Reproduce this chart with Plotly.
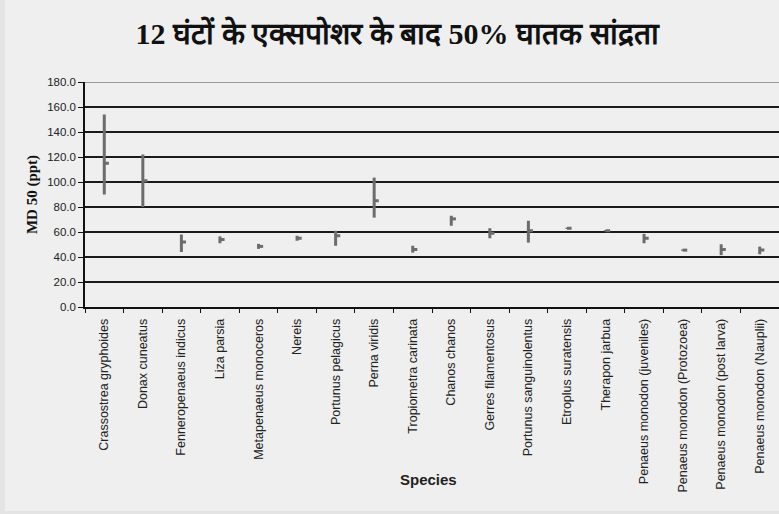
import plotly.graph_objects as go

# Species tested and their 12-hour LC50 salinity values (ppt): low, high and mean
species = [
    "Crassostrea gryphoides", "Donax cuneatus", "Fenneropenaeus indicus", "Liza parsia",
    "Metapenaeus monoceros", "Nereis", "Portunus pelagicus", "Perna viridis",
    "Tropiometra carinata", "Chanos chanos", "Gerres filamentosus",
    "Portunus sanguinolentus", "Etroplus suratensis", "Therapon jarbua",
    "Penaeus monodon (juveniles)", "Penaeus monodon (Protozoea)",
    "Penaeus monodon (post larva)", "Penaeus monodon (Nauplii)",
]
low = [90, 80, 44, 51, 46.5, 53, 49, 71.5, 43.5, 65, 55, 51.5, 62.5, 60.5, 51, 45, 41.5, 42.2]
high = [154, 122, 58, 56.5, 50.5, 57, 61, 103.5, 49, 73, 63, 69, 63.5, 61.5, 58.5, 46, 50.2, 48.3]
mean = [115, 101, 52, 54, 48.5, 55, 57, 85, 46, 70.5, 59, 61, 63, 61, 55, 45.5, 46, 45.6]

y_ticks = [0, 20, 40, 60, 80, 100, 120, 140, 160, 180]

LINE_COLOR = "#6c6c6c"
TICK_OFFSET = 0.12  # length of the mean tick, in category units

idx = list(range(len(species)))

# vertical low-high segments
rx, ry = [], []
for i, lo, hi in zip(idx, low, high):
    rx += [i, i, None]
    ry += [lo, hi, None]

# short mean tick to the right of each segment
mx, my = [], []
for i, m in zip(idx, mean):
    mx += [i, i + TICK_OFFSET, None]
    my += [m, m, None]

fig = go.Figure()
fig.add_trace(go.Scatter(x=rx, y=ry, mode="lines",
                         line=dict(color=LINE_COLOR, width=3), hoverinfo="skip",
                         showlegend=False))
fig.add_trace(go.Scatter(x=mx, y=my, mode="lines",
                         line=dict(color=LINE_COLOR, width=3), hoverinfo="skip",
                         showlegend=False))

fig.update_layout(
    width=779, height=514,
    margin=dict(l=85, r=0, t=82, b=207),
    paper_bgcolor="#e4e4e4",
    plot_bgcolor="#f4f4f4",
    showlegend=False,
    title=dict(
        text="<b>12 घंटों के एक्सपोशर के बाद 50% घातक सांद्रता</b>",
        x=397 / 779, xanchor="center", xref="container",
        y=1 - 33 / 514, yanchor="middle", yref="container",
        font=dict(family="Liberation Serif, Noto Serif, serif", size=30, color="#111111"),
    ),
    xaxis=dict(
        range=[-0.5, len(species) - 0.5],
        tickvals=idx, ticktext=species, tickangle=-90,
        ticks="outside", ticklen=5, tickcolor="rgba(0,0,0,0)",
        tickfont=dict(family="Arial, Liberation Sans, sans-serif", size=12.5, color="#222222"),
        showgrid=False, zeroline=False,
        showline=True, linecolor="#111111", linewidth=1.5,
        minor=dict(tick0=-0.5, dtick=1, ticks="outside", ticklen=4,
                   tickcolor="#111111", tickwidth=1, showgrid=False),
        fixedrange=True,
    ),
    yaxis=dict(
        range=[0, 180],
        tickvals=y_ticks, tickformat=".1f",
        ticks="outside", ticklen=5, tickcolor="#111111",
        tickfont=dict(family="Arial, Liberation Sans, sans-serif", size=11.5, color="#222222"),
        showgrid=True, gridcolor="#1a1a1a", gridwidth=1.6,
        zeroline=False,
        showline=True, linecolor="#111111", linewidth=1.5,
        title=dict(text="<b>MD 50 (ppt)</b>", standoff=6,
                   font=dict(family="Liberation Serif, Times New Roman, serif", size=15,
                             color="#111111")),
        fixedrange=True,
    ),
    shapes=[
        # chart panel behind everything
        dict(type="rect", xref="paper", yref="paper", layer="below",
             x0=-80 / 694, x1=1.0, y0=-(511 - 307) / 225, y1=307 / 225,
             fillcolor="#efefef", line=dict(width=0)),
        # light top border of the plot area
        dict(type="line", xref="paper", yref="y", x0=0, x1=1, y0=180, y1=180,
             line=dict(color="#9a9a9a", width=2)),
    ],
    annotations=[
        dict(text="<b>Species</b>", xref="paper", yref="paper",
             x=(428 - 85) / 694, y=-(480 - 307) / 225, xanchor="center", yanchor="middle",
             showarrow=False,
             font=dict(family="Arial, Liberation Sans, sans-serif", size=15, color="#222222")),
    ],
)

fig.write_html("out.html")
